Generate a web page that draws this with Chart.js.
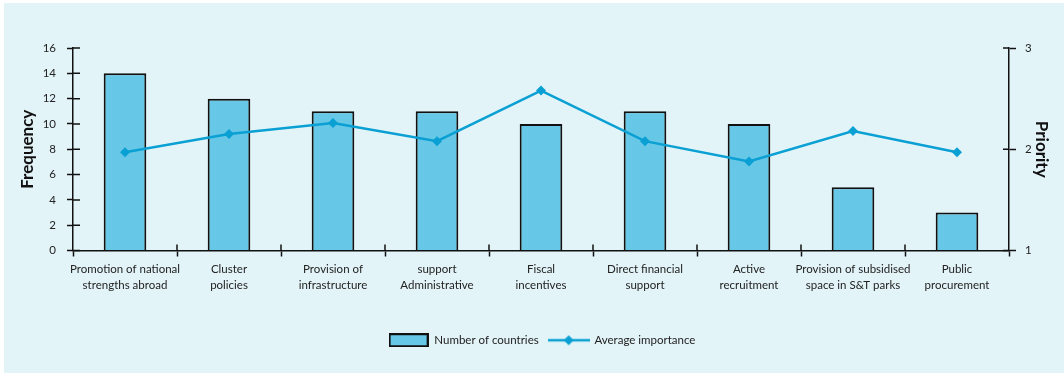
<!DOCTYPE html>
<html>
<head>
<meta charset="utf-8">
<script src="https://cdn.jsdelivr.net/npm/chart.js@4"></script>
<style>
  html, body { margin: 0; padding: 0; background: #fff; }
  #wrap { position: absolute; left: 0; top: 0; width: 1064px; height: 373px; }
</style>
</head>
<body>
<div id="wrap"><canvas id="grafico" width="1064" height="373"></canvas></div>
<script>
const categorie = [
  ['Promotion of national', 'strengths abroad'],
  ['Cluster', 'policies'],
  ['Provision of', 'infrastructure'],
  ['support', 'Administrative'],
  ['Fiscal', 'incentives'],
  ['Direct financial', 'support'],
  ['Active', 'recruitment'],
  ['Provision of subsidised', 'space in S&T parks'],
  ['Public', 'procurement']
];
const numeroPaesi = [14, 12, 11, 11, 10, 11, 10, 5, 3];
const importanzaMedia = [1.97, 2.15, 2.26, 2.08, 2.58, 2.08, 1.88, 2.18, 1.97];
const tickFrequenza = [0, 2, 4, 6, 8, 10, 12, 14, 16];
const tickPriorita = [1, 2, 3];

const FONT = 'Lato';
const BLU = '#0aa0d3';
const AZZURRO = '#66c7e6';

// icone della legenda: riquadro della barra e linea con rombo
function iconaBarra(){
  const c = document.createElement('canvas');
  c.width = 40; c.height = 14;
  const g = c.getContext('2d');
  g.fillStyle = AZZURRO;
  g.fillRect(1, 1, 38, 12);
  g.strokeStyle = '#111';
  g.lineWidth = 2;
  g.strokeRect(1, 1, 38, 12);
  return c;
}
function iconaLinea(){
  const c = document.createElement('canvas');
  c.width = 42; c.height = 14;
  const g = c.getContext('2d');
  g.strokeStyle = BLU;
  g.lineWidth = 2.5;
  g.beginPath(); g.moveTo(0, 7); g.lineTo(42, 7); g.stroke();
  g.fillStyle = BLU;
  g.beginPath(); g.moveTo(21, 2); g.lineTo(26, 7); g.lineTo(21, 12); g.lineTo(16, 7); g.closePath(); g.fill();
  return c;
}

// sfondo azzurro del riquadro
const sfondo = {
  id: 'sfondo',
  beforeDraw(chart){
    const ctx = chart.ctx;
    ctx.save();
    ctx.fillStyle = '#e3f4f9';
    ctx.fillRect(4, 3, 1060, 370);
    ctx.restore();
  }
};

// tacche che attraversano gli assi (parte interna)
const tacche = {
  id: 'tacche',
  afterDraw(chart){
    const ctx = chart.ctx, a = chart.chartArea;
    const y = chart.scales.y, y2 = chart.scales.y2, x = chart.scales.x;
    ctx.save();
    ctx.strokeStyle = '#111';
    ctx.lineWidth = 1.5;
    ctx.beginPath();
    y.ticks.forEach((t, i) => { const p = y.getPixelForTick(i); ctx.moveTo(a.left, p); ctx.lineTo(a.left + 7, p); });
    y2.ticks.forEach((t, i) => { const p = y2.getPixelForTick(i); ctx.moveTo(a.right, p); ctx.lineTo(a.right - 6, p); });
    for (let i = 1; i < categorie.length; i++) {
      const p = (x.getPixelForValue(i - 1) + x.getPixelForValue(i)) / 2;
      ctx.moveTo(p, a.bottom); ctx.lineTo(p, a.bottom - 6);
    }
    ctx.stroke();
    ctx.restore();
  }
};

const icone = [iconaBarra(), iconaLinea()];

new Chart(document.getElementById('grafico').getContext('2d'), {
  type: 'bar',
  data: {
    labels: categorie,
    datasets: [
      {
        type: 'bar',
        label: 'Number of countries',
        data: numeroPaesi,
        yAxisID: 'y',
        backgroundColor: AZZURRO,
        borderColor: '#111',
        borderWidth: 2,
        categoryPercentage: 1,
        barPercentage: 0.41,
        order: 2
      },
      {
        type: 'line',
        label: 'Average importance',
        data: importanzaMedia,
        yAxisID: 'y2',
        borderColor: BLU,
        backgroundColor: BLU,
        borderWidth: 2.5,
        pointStyle: 'rectRot',
        pointRadius: 5,
        pointBorderWidth: 0,
        tension: 0,
        order: 1
      }
    ]
  },
  options: {
    responsive: false,
    devicePixelRatio: 1,
    animation: false,
    layout: { padding: { left: 30, right: 10, top: 48, bottom: 17 } },
    plugins: {
      tooltip: { enabled: false },
      legend: {
        position: 'bottom',
        labels: {
          usePointStyle: true,
          pointStyleWidth: 40,
          boxHeight: 12,
          padding: 10,
          color: '#222',
          font: { family: FONT, size: 11.5 },
          generateLabels(chart){
            return chart.data.datasets.map((ds, i) => ({
              text: ds.label,
              pointStyle: icone[i],
              datasetIndex: i,
              fillStyle: 'transparent',
              strokeStyle: 'transparent',
              lineWidth: 0,
              fontColor: '#222'
            }));
          }
        }
      }
    },
    scales: {
      x: {
        offset: true,
        grid: { offset: true, drawOnChartArea: false, color: '#111', tickLength: 6, tickWidth: 1.5 },
        border: { color: '#111', width: 1.5 },
        ticks: { color: '#222', font: { family: FONT, size: 11.5, lineHeight: 1.4 }, padding: 5, maxRotation: 0, autoSkip: false },
        afterFit(s){ s.height = 74; }
      },
      y: {
        position: 'left',
        min: 0, max: 16,
        afterBuildTicks(s){ s.ticks = tickFrequenza.map(v => ({ value: v })); },
        grid: { drawOnChartArea: false, color: '#111', tickLength: 6, tickWidth: 1.5 },
        border: { color: '#111', width: 1.5 },
        ticks: { color: '#222', font: { family: FONT, size: 11.5 }, padding: 11 },
        title: { display: true, text: 'Frequency', color: '#111', font: { family: FONT, size: 17, weight: 'bold' }, padding: { top: -13, bottom: 0 } },
        afterFit(s){ s.width = 43; }
      },
      y2: {
        position: 'right',
        min: 1, max: 3,
        afterBuildTicks(s){ s.ticks = tickPriorita.map(v => ({ value: v })); },
        grid: { drawOnChartArea: false, color: '#111', tickLength: 7, tickWidth: 1.5 },
        border: { color: '#111', width: 1.5 },
        ticks: { color: '#222', font: { family: FONT, size: 11.5 }, padding: 9 },
        title: { display: true, text: 'Priority', color: '#111', font: { family: FONT, size: 17, weight: 'bold' }, padding: { top: 2, bottom: 0 } },
        afterFit(s){ s.width = 45; }
      }
    }
  },
  plugins: [sfondo, tacche]
});
</script>
</body>
</html>
